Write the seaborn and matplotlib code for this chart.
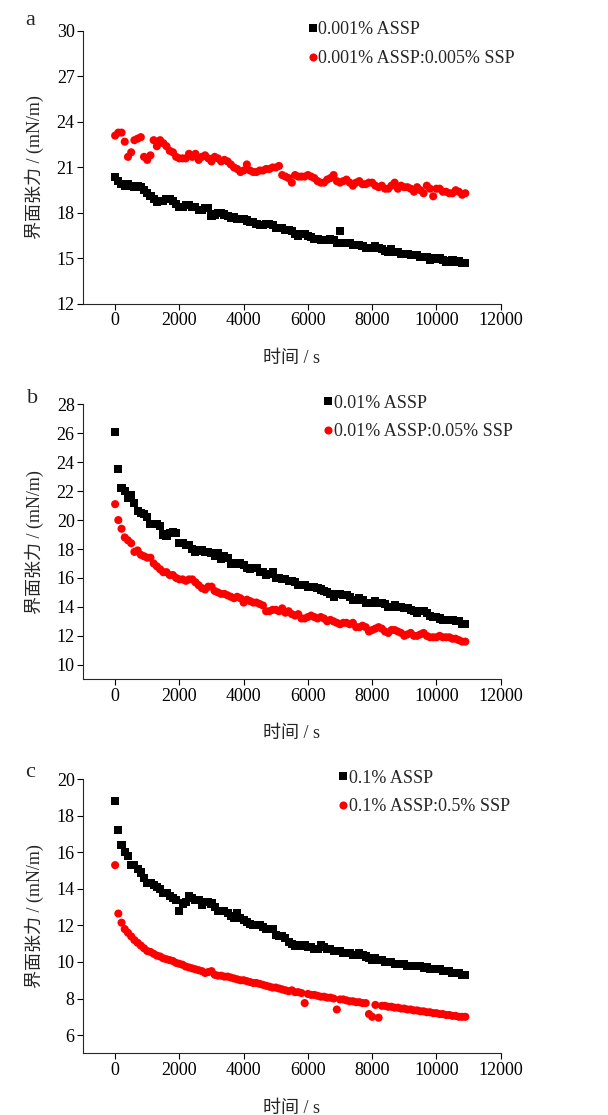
import numpy as np
import pandas as pd
import matplotlib
matplotlib.use("Agg")
import matplotlib.pyplot as plt
import seaborn as sns

# time axis (s), one reading every 100 s
time_s = np.arange(0, 11000, 100)

# panel a : 0.001% ASSP
a_assp = [20.4, 20.1, 19.9, 19.8, 19.9, 19.8, 19.7, 19.8, 19.7, 19.5,
          19.3, 19.1, 18.9, 18.7, 18.8, 18.8, 18.9, 18.9, 18.8, 18.6,
          18.4, 18.4, 18.5, 18.5, 18.4, 18.4, 18.2, 18.2, 18.3, 18.3,
          17.8, 17.9, 18.0, 18.0, 17.9, 17.8, 17.7, 17.7, 17.6, 17.6,
          17.6, 17.5, 17.4, 17.4, 17.3, 17.2, 17.2, 17.3, 17.3, 17.2,
          17.0, 17.0, 17.0, 16.9, 16.9, 16.8, 16.6, 16.5, 16.6, 16.6,
          16.5, 16.4, 16.3, 16.3, 16.2, 16.2, 16.2, 16.3, 16.2, 16.0,
          16.8, 16.0, 16.0, 16.0, 15.9, 15.9, 15.9, 15.8, 15.7, 15.7,
          15.7, 15.8, 15.7, 15.6, 15.5, 15.4, 15.6, 15.4, 15.4, 15.3,
          15.3, 15.3, 15.2, 15.2, 15.2, 15.1, 15.1, 15.1, 14.9, 15.0,
          15.0, 15.0, 14.9, 14.8, 14.8, 14.9, 14.8, 14.8, 14.7, 14.7]
a_mix = [23.1, 23.3, 23.3, 22.7, 21.7, 22.0, 22.8, 22.9, 23.0, 21.7,
         21.5, 21.8, 22.8, 22.4, 22.8, 22.6, 22.4, 22.1, 22.0, 21.7,
         21.6, 21.6, 21.6, 21.9, 21.7, 21.9, 21.5, 21.7, 21.8, 21.6,
         21.4, 21.7, 21.6, 21.4, 21.5, 21.4, 21.2, 21.0, 20.9, 20.7,
         20.8, 21.2, 20.8, 20.7, 20.7, 20.8, 20.8, 20.9, 20.9, 21.0,
         21.0, 21.1, 20.5, 20.4, 20.3, 20.0, 20.5, 20.4, 20.4, 20.4,
         20.5, 20.4, 20.3, 20.1, 20.0, 20.0, 20.2, 20.3, 20.5, 20.1,
         20.0, 20.1, 20.2, 20.0, 19.8, 20.0, 20.1, 19.9, 19.9, 20.0,
         20.0, 19.8, 19.7, 19.8, 19.6, 19.6, 19.8, 20.0, 19.6, 19.8,
         19.7, 19.7, 19.6, 19.4, 19.7, 19.5, 19.3, 19.8, 19.6, 19.1,
         19.6, 19.6, 19.4, 19.4, 19.3, 19.3, 19.5, 19.4, 19.2, 19.3]

# panel b : 0.01% ASSP
b_assp = [26.1, 23.5, 22.2, 22.0, 21.5, 21.7, 21.2, 20.6, 20.5, 20.4,
          20.2, 19.7, 19.7, 19.7, 19.6, 19.0, 18.9, 19.1, 19.2, 19.1,
          18.4, 18.4, 18.3, 18.3, 18.0, 17.8, 17.9, 17.9, 17.8, 17.8,
          17.7, 17.5, 17.7, 17.3, 17.5, 17.4, 17.0, 17.0, 17.0, 17.0,
          16.9, 16.7, 16.6, 16.7, 16.7, 16.4, 16.4, 16.2, 16.3, 16.4,
          16.0, 16.0, 15.9, 15.9, 15.8, 15.8, 15.7, 15.5, 15.5, 15.5,
          15.4, 15.4, 15.4, 15.3, 15.2, 15.1, 15.0, 14.9, 14.7, 14.9,
          14.9, 14.8, 14.8, 14.7, 14.5, 14.5, 14.6, 14.5, 14.3, 14.3,
          14.3, 14.4, 14.3, 14.3, 14.2, 14.0, 14.0, 14.1, 14.0, 14.0,
          13.9, 13.9, 13.8, 13.7, 13.6, 13.7, 13.7, 13.6, 13.4, 13.3,
          13.3, 13.2, 13.1, 13.1, 13.1, 13.1, 13.0, 13.0, 12.8, 12.8]
b_mix = [21.1, 20.0, 19.4, 18.8, 18.6, 18.4, 17.8, 17.9, 17.6, 17.5,
         17.4, 17.4, 17.0, 16.8, 16.6, 16.4, 16.4, 16.2, 16.2, 16.0,
         15.9, 15.9, 15.8, 15.9, 15.9, 15.7, 15.5, 15.3, 15.2, 15.4,
         15.4, 15.1, 15.0, 14.9, 14.9, 14.8, 14.7, 14.6, 14.7, 14.6,
         14.3, 14.5, 14.4, 14.3, 14.3, 14.2, 14.1, 13.7, 13.7, 13.8,
         13.8, 13.7, 13.9, 13.6, 13.7, 13.5, 13.4, 13.5, 13.2, 13.2,
         13.3, 13.4, 13.3, 13.2, 13.3, 13.2, 13.0, 13.1, 13.0, 12.9,
         12.8, 12.9, 12.9, 12.8, 12.9, 12.6, 12.6, 12.7, 12.6, 12.3,
         12.4, 12.5, 12.6, 12.5, 12.3, 12.2, 12.4, 12.4, 12.3, 12.2,
         12.0, 12.1, 12.2, 12.0, 12.0, 12.1, 12.2, 12.0, 11.9, 11.9,
         11.9, 12.0, 11.9, 11.9, 11.9, 11.8, 11.8, 11.7, 11.6, 11.6]

# panel c : 0.1% ASSP
c_assp = [18.8, 17.2, 16.4, 16.0, 15.8, 15.3, 15.3, 15.1, 14.9, 14.6,
          14.3, 14.3, 14.2, 14.1, 14.0, 13.8, 13.8, 13.6, 13.5, 13.4,
          12.8, 13.2, 13.3, 13.6, 13.5, 13.4, 13.4, 13.1, 13.3, 13.3,
          13.2, 13.0, 12.8, 12.8, 12.8, 12.7, 12.5, 12.4, 12.7, 12.4,
          12.3, 12.2, 12.1, 12.0, 12.0, 12.0, 11.9, 11.8, 11.8, 11.8,
          11.5, 11.4, 11.4, 11.3, 11.1, 11.0, 10.9, 10.9, 10.9, 10.9,
          10.8, 10.8, 10.7, 10.7, 10.9, 10.8, 10.7, 10.7, 10.6, 10.6,
          10.6, 10.5, 10.5, 10.5, 10.4, 10.4, 10.5, 10.4, 10.3, 10.2,
          10.1, 10.2, 10.1, 10.1, 10.0, 10.0, 10.0, 9.9, 9.9, 9.9,
          9.9, 9.8, 9.8, 9.8, 9.8, 9.8, 9.7, 9.7, 9.6, 9.6,
          9.6, 9.6, 9.5, 9.5, 9.5, 9.4, 9.4, 9.4, 9.3, 9.3]
c_mix = [15.3, 12.65, 12.15, 11.8, 11.6, 11.4, 11.2, 11.05, 10.9, 10.75,
         10.6, 10.55, 10.45, 10.35, 10.3, 10.2, 10.15, 10.1, 10.05, 9.95,
         9.9, 9.85, 9.75, 9.7, 9.65, 9.6, 9.55, 9.5, 9.4, 9.45,
         9.5, 9.3, 9.25, 9.25, 9.2, 9.2, 9.15, 9.1, 9.05, 9.0,
         9.0, 8.95, 8.9, 8.85, 8.85, 8.8, 8.75, 8.7, 8.65, 8.6,
         8.6, 8.55, 8.5, 8.45, 8.4, 8.45, 8.35, 8.35, 8.3, 7.75,
         8.25, 8.2, 8.2, 8.15, 8.1, 8.1, 8.05, 8.05, 8.0, 7.4,
         7.95, 7.95, 7.9, 7.85, 7.85, 7.8, 7.8, 7.75, 7.75, 7.15,
         7.0, 7.65, 6.95, 7.6, 7.6, 7.55, 7.55, 7.5, 7.5, 7.45,
         7.45, 7.4, 7.4, 7.35, 7.35, 7.3, 7.3, 7.25, 7.25, 7.2,
         7.2, 7.15, 7.15, 7.1, 7.1, 7.05, 7.05, 7.0, 7.0, 7.0]

panels = [
    ("a", a_assp, a_mix, "0.001% ASSP", "0.001% ASSP:0.005% SSP",
     (12, 30), [12, 15, 18, 21, 24, 27, 30]),
    ("b", b_assp, b_mix, "0.01% ASSP", "0.01% ASSP:0.05% SSP",
     (9, 28), list(range(10, 29, 2))),
    ("c", c_assp, c_mix, "0.1% ASSP", "0.1% ASSP:0.5% SSP",
     (5, 20), list(range(6, 21, 2))),
]

sns.set_style("ticks")
plt.rcParams["font.family"] = ["Liberation Serif", "Noto Sans CJK SC"]
plt.rcParams["axes.linewidth"] = 0.8

fig = plt.figure(figsize=(6.08, 11.15), dpi=100)

# axes rectangles in figure fraction
rects = [[0.1365, 0.7274, 0.687, 0.2448],
         [0.1365, 0.3908, 0.687, 0.2466],
         [0.1365, 0.0553, 0.687, 0.2458]]
leg_anchor = [(0.540, 1.035), (0.576, 1.035), (0.612, 1.035)]
letter_pos = [(0.049, 0.982), (0.054, 0.643), (0.049, 0.307)]

for i, (letter, blk, red, lab1, lab2, ylim, yticks) in enumerate(panels):
    ax = fig.add_axes(rects[i])
    df = pd.DataFrame({"t": np.concatenate([time_s, time_s]),
                       "v": np.concatenate([blk, red]),
                       "s": [lab1] * len(time_s) + [lab2] * len(time_s)})
    sns.scatterplot(data=df, x="t", y="v", hue="s", style="s",
                    palette=["black", "red"], markers=["s", "o"],
                    s=34, linewidth=0, ax=ax, legend=True)
    ax.set_xlim(-1000, 12000)
    ax.set_ylim(*ylim)
    ax.set_xticks(range(0, 12001, 2000))
    ax.set_yticks(yticks)
    sns.despine(ax=ax)
    ax.tick_params(direction="out", length=4, width=0.8, labelsize=13,
                   pad=2, color="black", labelcolor="black")
    ax.set_xlabel("时间 / s", fontsize=13, labelpad=15)
    ax.set_ylabel("界面张力 / (mN/m)", fontsize=13, labelpad=9)
    h, l = ax.get_legend_handles_labels()
    ax.legend(h, l, loc="upper left", bbox_to_anchor=leg_anchor[i],
              frameon=False, fontsize=13, handlelength=0.5,
              handletextpad=0.05, borderpad=0, borderaxespad=0,
              labelspacing=0.65, markerscale=1.0)
    fig.text(letter_pos[i][0], letter_pos[i][1], letter, fontsize=16,
             ha="center", va="center")

fig.savefig("out.png", dpi=100)
